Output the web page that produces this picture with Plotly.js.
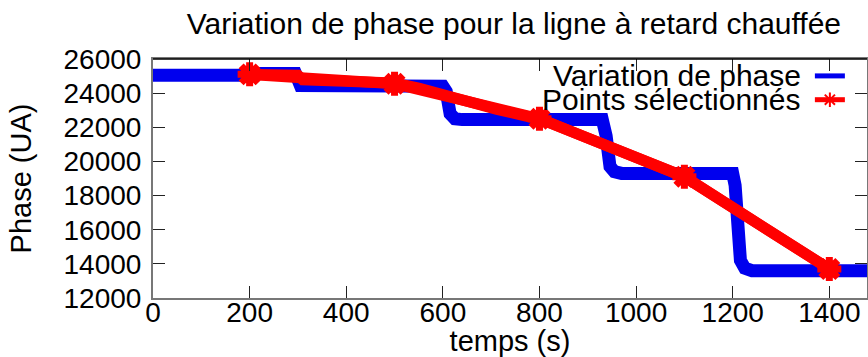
<!DOCTYPE html>
<html>
<head>
<meta charset="utf-8">
<script src="https://cdn.plot.ly/plotly-3.0.1.min.js"></script>
<style>
  html, body { margin: 0; padding: 0; background: #fff; }
  #chart { width: 868px; height: 357px; }
</style>
</head>
<body>
<div id="chart"></div>
<script>
// ---- Data ----
// Blue: measured phase variation (noisy step signal), time (s) / phase (UA)
const phaseTime  = [0, 100, 190, 200, 295, 305, 400, 500, 600, 607, 615, 625, 640, 800, 930, 938, 946, 955, 970, 1100, 1200, 1205, 1210, 1216, 1225, 1240, 1350, 1478];
const phaseValue = [25050, 25000, 25050, 25150, 25150, 24450, 24400, 24420, 24400, 24100, 22800, 22500, 22450, 22450, 22450, 21500, 19700, 19400, 19300, 19300, 19300, 18600, 16500, 14200, 13750, 13600, 13600, 13600];

// Red: selected points path (dense path) and the selected points themselves
const pathTime  = [200, 300, 310, 500, 550, 600, 650, 712, 781, 800, 1100, 1400];
const pathValue = [25100, 25050, 24780, 24600, 24300, 23900, 23450, 23050, 22600, 22500, 19100, 13700];
const selTime   = [200, 500, 800, 1100, 1400];
const selValue  = [25100, 24550, 22500, 19100, 13700];

// Axis ticks
const xTicks = [0, 200, 400, 600, 800, 1000, 1200, 1400];
const yTicks = [12000, 14000, 16000, 18000, 20000, 22000, 24000, 26000];

const titleText  = 'Variation de phase pour la ligne à retard chauffée';
const xTitleText = 'temps (s)';
const yTitleText = 'Phase (UA)';
const legendNames = ['Variation de phase', 'Points sélectionnés'];

const FONT = 'Liberation Sans, Arial, sans-serif';
const BLUE = '#0000ee';
const RED = '#ff0000';

const traces = [
  {
    x: phaseTime, y: phaseValue, type: 'scatter', mode: 'lines',
    name: '', line: { color: BLUE, width: 13 }, showlegend: true
  },
  {
    x: pathTime, y: pathValue, type: 'scatter', mode: 'lines',
    name: '', line: { color: RED, width: 11 }, showlegend: false
  },
  {
    x: selTime, y: selValue, type: 'scatter', mode: 'lines+markers',
    name: '', line: { color: RED, width: 11 },
    marker: { symbol: 'asterisk-open', color: RED, size: 20, line: { color: RED, width: 7 } },
    showlegend: true
  }
];

const axisCommon = {
  showgrid: false, zeroline: false,
  ticks: 'inside', ticklen: 12, tickwidth: 1, tickcolor: '#222',
  showline: true, linecolor: '#777', linewidth: 2, mirror: 'ticks',
  tickfont: { family: FONT, size: 28, color: '#000' }
};

const layout = {
  width: 868, height: 357,
  margin: { l: 153, r: 1, t: 59, b: 59 },
  paper_bgcolor: '#fff', plot_bgcolor: '#fff',
  font: { family: FONT, color: '#000' },
  title: {
    text: titleText, font: { family: FONT, size: 30, color: '#000' },
    x: 0.592, xref: 'container', xanchor: 'center',
    y: 0.935, yref: 'container', yanchor: 'middle'
  },
  xaxis: Object.assign({}, axisCommon, {
    range: [0, 1478], tickvals: xTicks, ticktext: xTicks.map(String),
    ticklabelstandoff: -12,
    title: { text: xTitleText, font: { family: FONT, size: 29, color: '#000' }, standoff: 8 }
  }),
  yaxis: Object.assign({}, axisCommon, {
    range: [12000, 26000], tickvals: yTicks, ticktext: yTicks.map(String),
    ticklabelstandoff: 4,
    title: { text: yTitleText, font: { family: FONT, size: 29, color: '#000' }, standoff: 23 }
  }),
  showlegend: true,
  legend: {
    x: 0.92, xanchor: 'left', xref: 'paper',
    y: 1.0, yanchor: 'top', yref: 'paper',
    bgcolor: 'rgba(0,0,0,0)', borderwidth: 0,
    font: { family: FONT, size: 16 },
    itemsizing: 'constant', tracegroupgap: 0
  },
  annotations: [
    { text: legendNames[0], xref: 'paper', yref: 'paper', x: 0.9104, y: 0.933,
      xanchor: 'right', yanchor: 'middle', showarrow: false,
      font: { family: FONT, size: 30, color: '#000' } },
    { text: legendNames[1], xref: 'paper', yref: 'paper', x: 0.9104, y: 0.8285,
      xanchor: 'right', yanchor: 'middle', showarrow: false,
      font: { family: FONT, size: 30, color: '#000' } }
  ],
  shapes: [
    { type: 'line', xref: 'paper', yref: 'paper', x0: 0, x1: 1, y0: 1, y1: 1,
      line: { color: '#000', width: 1.5 } }
  ]
};

Plotly.newPlot('chart', traces, layout, { staticPlot: true, displayModeBar: false });
</script>
</body>
</html>
